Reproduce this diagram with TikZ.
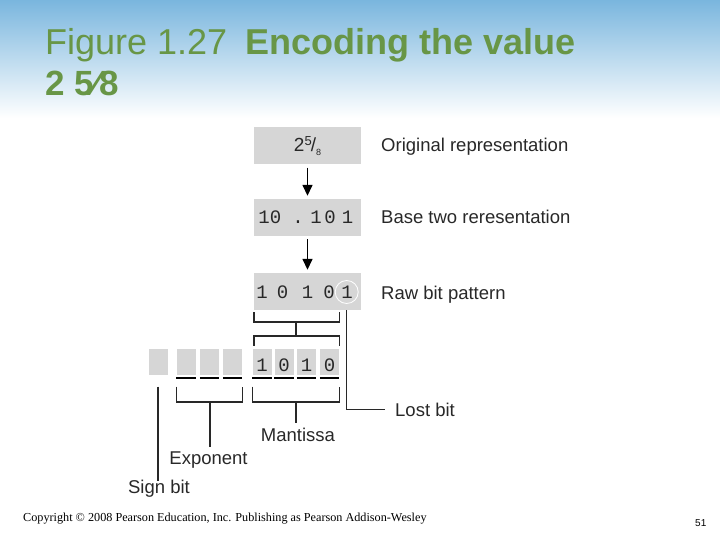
\documentclass[tikz,border=0pt]{standalone}
\usepackage{fontspec}
\setmainfont{Liberation Sans}
\newfontfamily\monofont{Liberation Mono}
\newfontfamily\footfont{Liberation Serif}
\usepackage{tikz}
\usetikzlibrary{arrows.meta,positioning}
\definecolor{titlegreen}{RGB}{104,150,70}
\definecolor{skyblue}{RGB}{122,182,222}
\definecolor{bitgray}{RGB}{214,214,214}
\definecolor{inkgray}{RGB}{40,40,40}

\begin{document}
\begin{tikzpicture}[
  x=1pt,y=-1pt,
  bitbox/.style={rectangle,fill=bitgray,inner sep=0pt,
    minimum width=107pt,minimum height=37pt},
  cell/.style={rectangle,fill=bitgray,inner sep=0pt,
    minimum width=19pt,minimum height=26pt},
  digit/.style={anchor=base,inner sep=0pt,text=inkgray,
    font=\monofont\fontsize{19}{19}\selectfont},
  caption/.style={anchor=base west,inner sep=0pt,text=inkgray,
    font=\fontsize{18.5}{18.5}\selectfont},
  brk/.style={draw=inkgray,line width=1.4pt},
  bar/.style={draw=black,line width=2.2pt},
  arrow/.style={-{Triangle[length=11pt,width=10pt]},line width=1.5pt,
    shorten <=3pt,shorten >=3pt}
]
\useasboundingbox (0,0) rectangle (720,540);
\shade[top color=skyblue,bottom color=white] (0,0) rectangle (720,118);

% title
\node[anchor=base west,inner sep=0pt,text=titlegreen,
  font=\fontsize{36}{36}\selectfont] (title) at (45,55)
  {Figure 1.27\hspace{0.5em}\textbf{Encoding the value}};
\node[anchor=base west,inner sep=0pt,text=titlegreen,
  font=\fontsize{35}{35}\selectfont\bfseries] (value) at (45,96) {2 5⁄8};

% the three stages
\node[bitbox,text=inkgray,font=\fontsize{19}{19}\selectfont] (orig) at (307.5,146)
  {2\raisebox{6pt}{\fontsize{13}{13}\selectfont 5}\kern-1pt/\raisebox{-4pt}{\fontsize{9}{9}\selectfont 8}};
\node[bitbox] (base) at (307.5,217.5) {};
\node[bitbox] (raw) at (307.5,291.5) {};
\foreach \d/\x [count=\i] in {1/264,0/275.5,./298,1/316,0/330,1/347.5}
  \node[digit] (bd\i) at (\x,223.3) {\d};
\foreach \d/\x [count=\i] in {1/262,0/282.5,1/307.5,0/329,1/347}
  \node[digit] (rd\i) at (\x,298.3) {\d};
\node[circle,draw=white,line width=0.8pt,minimum size=23pt,inner sep=0pt] (lost) at (346.7,292) {};

\draw[arrow] (orig) -- (base);
\draw[arrow] (base) -- (raw);

\node[caption] (origlbl) at (381,152) {Original representation};
\node[caption] (baselbl) at (381,223.5) {Base two reresentation};
\node[caption] (rawlbl) at (381,299) {Raw bit pattern};

% storage cells
\node[cell] (sign) at (158,361.5) {};
\foreach \x [count=\i] in {186,209.5,232.5}
  \node[cell] (e\i) at (\x,361.5) {};
\foreach \d/\x [count=\i] in {1/262,0/284,1/306.5,0/329.5}{
  \node[cell] (m\i) at (\x,361.5) {};
  \node[digit] (md\i) at (\x,371) {\d};
}
\foreach \n in {e1,e2,e3,m1,m2,m3,m4}
  \draw[bar] ([yshift=-3pt]\n.south west) -- ([yshift=-3pt]\n.south east);

% brackets
\coordinate (rawstem) at (296,322);
\coordinate (mantbrk) at (296,336);
\coordinate (mantstem) at (296,402);
\coordinate (expstem) at (210,402);

\draw[brk] ([yshift=-2pt]raw.south west) |- (rawstem) -| ([xshift=-22pt,yshift=-2pt]raw.south east);
\draw[brk] (rawstem) -- (mantbrk);
\draw[brk] ([xshift=1.5pt,yshift=2.5pt]m1.north west) |- (mantbrk) -| ([yshift=2.5pt]m4.north east);

\node[caption] (lostlbl) at (395,416) {Lost bit};
\node[caption,anchor=base] (mantlbl) at (298,441) {Mantissa};
\node[caption,anchor=base] (explbl) at (208.5,464) {Exponent};
\node[caption,anchor=base] (signlbl) at (159,493) {Sign bit};

\draw[brk] (lost.south |- raw.south) |- ([xshift=-10pt]lostlbl.west);
\draw[brk] ([yshift=-12pt]m1.south west) |- (mantstem) -| ([yshift=-12pt]m4.south east);
\draw[brk] (mantstem) -- (mantstem |- mantlbl.north) [shorten >=4pt];
\draw[brk] ([yshift=-12pt]e1.south west) |- (expstem) -| ([yshift=-12pt]e3.south east);
\draw[brk] (expstem) -- (expstem |- explbl.north) [shorten >=4pt];
\draw[brk] ([yshift=-12pt]sign.south) -- (sign.south |- signlbl.north) [shorten >=-1.5pt];

% footer
\node[anchor=base west,inner sep=0pt,font=\footfont\fontsize{12.2}{12.2}\selectfont] (copy) at (23,521)
  {Copyright © 2008 Pearson Education, Inc. Publishing as Pearson Addison-Wesley};
\node[anchor=base west,inner sep=0pt,font=\fontsize{10}{10}\selectfont] (page) at (695,526) {51};
\end{tikzpicture}
\end{document}
